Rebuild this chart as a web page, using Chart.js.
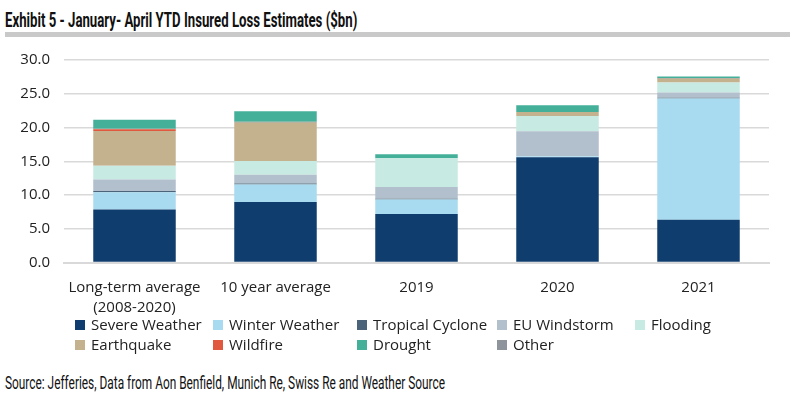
<!DOCTYPE html>
<html>
<head>
<meta charset="utf-8">
<script src="https://cdn.jsdelivr.net/npm/chart.js@4.4.1/dist/chart.umd.min.js"></script>
<style>
  body { margin: 0; background: #fff; width: 800px; height: 405px; overflow: hidden; position: relative; font-family: "Open Sans", sans-serif; }
  #title { position: absolute; left: 5px; top: 10px; font-family: Roboto, sans-serif; font-weight: bold; font-size: 21px; line-height: 21px; color: #111; white-space: nowrap; transform-origin: left top; }
  #rule { position: absolute; left: 5px; top: 32px; width: 785px; height: 5px; background: #c9c9c9; }
  #wrap { position: absolute; left: 0; top: 37px; width: 800px; height: 296px; }
  #legend { position: absolute; left: 75px; top: 314px; width: 720px; display: grid; grid-template-columns: 138px 144px 140px 138px 120px; row-gap: 0px; font-size: 15px; color: #222; }
  #legend div { height: 20px; line-height: 20px; white-space: nowrap; }
  #legend span { display: inline-block; width: 10px; height: 10px; margin-right: 6px; }
  #source { position: absolute; left: 5px; top: 374px; font-family: Roboto, sans-serif; font-size: 18px; line-height: 18px; color: #111; white-space: nowrap; transform-origin: left top; }
</style>
</head>
<body>
<div id="title">Exhibit 5 - January- April YTD Insured Loss Estimates ($bn)</div>
<div id="rule"></div>
<div id="wrap"><canvas id="chart"></canvas></div>
<div id="legend"></div>
<div id="source">Source: Jefferies, Data from Aon Benfield, Munich Re, Swiss Re and Weather Source</div>
<script>
const categories = [['Long-term average', '(2008-2020)'], '10 year average', '2019', '2020', '2021'];

const severeWeather   = [7.85, 8.95, 7.20, 15.60, 6.35];
const winterWeather   = [2.55, 2.60, 2.15, 0.15, 17.95];
const tropicalCyclone = [0.20, 0.15, 0.10, 0.00, 0.12];
const euWindstorm     = [1.70, 1.30, 1.75, 3.70, 0.75];
const flooding        = [2.05, 2.05, 4.25, 2.25, 1.50];
const earthquake      = [5.15, 5.65, 0.00, 0.60, 0.55];
const wildfire        = [0.25, 0.00, 0.00, 0.00, 0.00];
const drought         = [1.35, 1.55, 0.60, 1.00, 0.20];
const other           = [0.05, 0.15, 0.00, 0.00, 0.12];

const yTicks = [0, 5, 10, 15, 20, 25, 30];

// stack order (bottom to top); legend order is set separately
const series = [
  { label: 'Severe Weather', data: severeWeather, color: '#0f3d6e', legend: 0 },
  { label: 'Winter Weather', data: winterWeather, color: '#a8dbf0', legend: 1 },
  { label: 'Tropical Cyclone', data: tropicalCyclone, color: '#4b6479', legend: 2 },
  { label: 'EU Windstorm', data: euWindstorm, color: '#b2bfcc', legend: 3 },
  { label: 'Flooding', data: flooding, color: '#c7eae2', legend: 4 },
  { label: 'Earthquake', data: earthquake, color: '#c4b28e', legend: 5 },
  { label: 'Wildfire', data: wildfire, color: '#e0593f', legend: 6 },
  { label: 'Other', data: other, color: '#9a9a8c', legend: 8 },
  { label: 'Drought', data: drought, color: '#45b09a', legend: 7 }
];

const legendEl = document.getElementById('legend');
series.slice().sort((a, b) => a.legend - b.legend).forEach(s => {
  const d = document.createElement('div');
  const box = document.createElement('span');
  box.style.background = s.label === 'Other' ? '#8e949c' : s.color;
  d.appendChild(box);
  d.appendChild(document.createTextNode(s.label));
  legendEl.appendChild(d);
});

function fitWidth(id, w) {
  const el = document.getElementById(id);
  el.style.transform = 'scaleX(' + (w / el.offsetWidth) + ')';
}
fitWidth('title', 352);
fitWidth('source', 440);

const ctx = document.getElementById('chart').getContext('2d');
new Chart(ctx, {
  type: 'bar',
  data: {
    labels: categories,
    datasets: series.map(s => ({
      label: s.label,
      data: s.data,
      backgroundColor: s.color,
      borderWidth: 0,
      categoryPercentage: 1,
      barPercentage: 0.585
    }))
  },
  options: {
    responsive: true,
    maintainAspectRatio: false,
    animation: false,
    layout: { padding: { top: 0, right: 31, left: 0, bottom: 0 } },
    plugins: { legend: { display: false }, tooltip: { enabled: false } },
    scales: {
      x: {
        stacked: true,
        grid: { display: false, drawTicks: false },
        border: { color: '#d9d9d9', width: 2 },
        ticks: { color: '#222', font: { family: 'Open Sans', size: 15, lineHeight: 1.35 }, padding: 15, maxRotation: 0 }
      },
      y: {
        stacked: true,
        min: 0,
        max: 30,
        afterBuildTicks: scale => { scale.ticks = yTicks.map(v => ({ value: v })); },
        afterFit: scale => { scale.width = 64; },
        grid: { color: '#d9d9d9', lineWidth: 1.5, drawTicks: false },
        border: { display: false },
        ticks: { color: '#222', font: { family: 'Open Sans', size: 15 }, padding: 14, callback: v => v.toFixed(1) }
      }
    }
  }
});
</script>
</body>
</html>
